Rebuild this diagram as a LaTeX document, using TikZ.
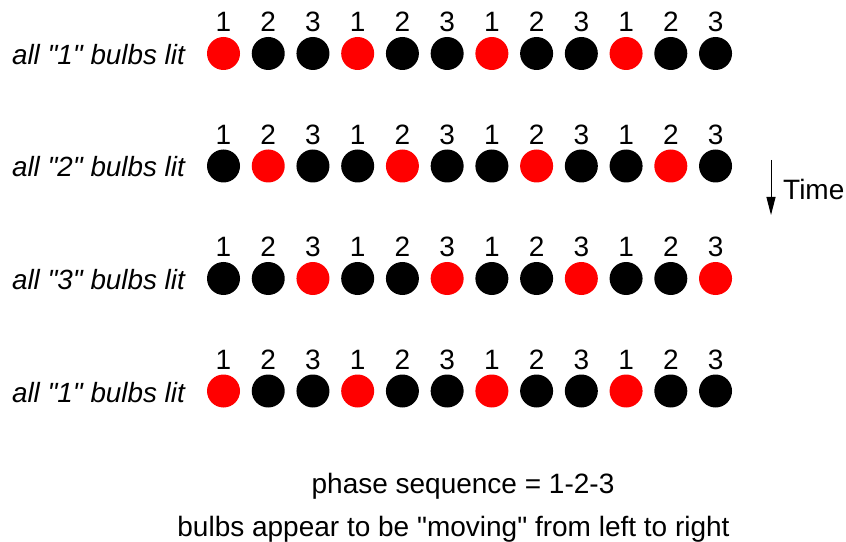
\documentclass[tikz,border=0pt]{standalone}
\usepackage{fontspec}
\setmainfont{Liberation Sans}[Ligatures=TeXOff]
\usetikzlibrary{arrows.meta}
\begin{document}
\begin{tikzpicture}[x=1bp,y=-1bp,
 bulb/.style={circle,minimum size=33bp,inner sep=0pt,fill=black},
 lit/.style={bulb,fill=red},
 txt/.style={font=\fontsize{28bp}{33bp}\selectfont,inner sep=0pt},
 itxt/.style={font=\fontsize{27.8bp}{33bp}\selectfont\itshape,inner sep=0pt},
 ]
\useasboundingbox (0,0) rectangle (846,542);
\foreach \r/\y/\p in {1/53.5/1,2/166/2,3/278.5/3,4/391/1} {
  \node[itxt,anchor=base east] (lab\r) at (185,\y+11) {all "\p" bulbs lit};
  \foreach \i in {0,...,11} {
    \pgfmathtruncatemacro\ph{mod(\i,3)+1}
    \pgfmathsetmacro\xx{223.5+44.73*\i}
    \def\sty{bulb}
    \ifnum\ph=\p \def\sty{lit}\fi
    \node[\sty] (b\r-\i) at (\xx,\y) {};
    \node[txt,anchor=base] (n\r-\i) at (\xx,\y-21.5) {\ph};
  }
}
\coordinate (ts) at (771,160);
\coordinate (te) at (771,215);
\draw[line width=1bp,-{Triangle[length=18bp,width=9bp]}] (ts) -- (te);
\node[txt,anchor=base west] (time) at (783,200) {Time};
\node[txt,anchor=base] (phase) at (463,493) {phase sequence = 1-2-3};
\node[txt,anchor=base] (moving) at (453.5,536) {bulbs appear to be "moving" from left to right};
\end{tikzpicture}
\end{document}
